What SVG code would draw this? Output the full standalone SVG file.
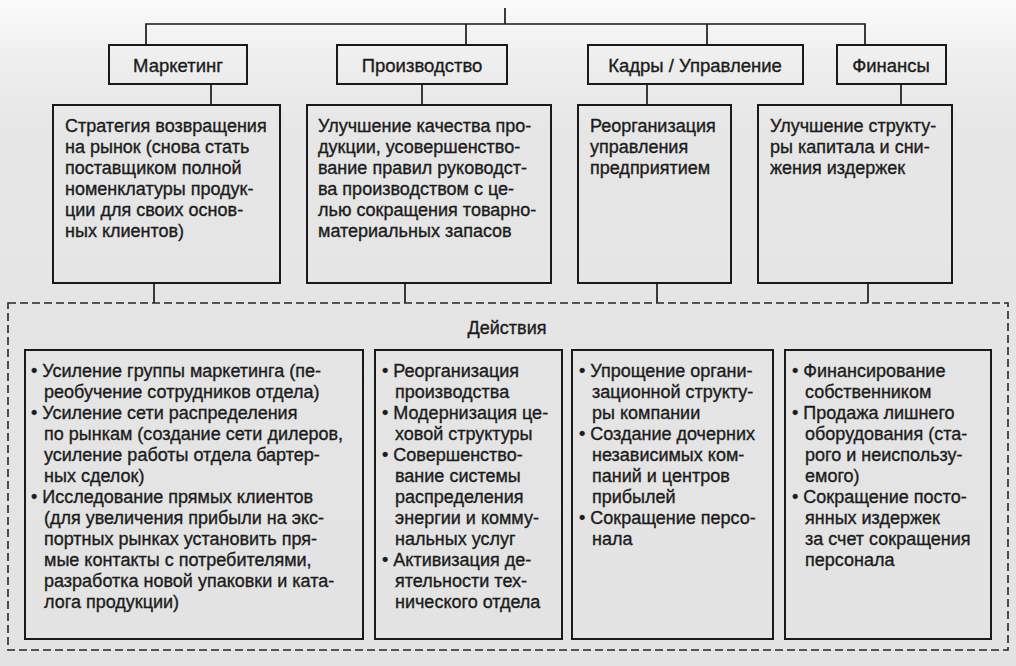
<svg xmlns="http://www.w3.org/2000/svg" width="1016" height="666" viewBox="0 0 1016 666">
<defs>
<linearGradient id="bg" x1="0" y1="0" x2="0" y2="1">
<stop offset="0" stop-color="#fbfbfb"/>
<stop offset="0.09" stop-color="#eeeeee"/>
<stop offset="0.2" stop-color="#e6e6e6"/>
<stop offset="1" stop-color="#e3e3e3"/>
</linearGradient>
<style>
.box{fill:none;stroke:#1a1a1a;stroke-width:2}
.ln{fill:none;stroke:#1a1a1a;stroke-width:1.7}
.dash{fill:none;stroke:#262626;stroke-width:1.6;stroke-dasharray:8 4}
text{font-family:"Liberation Sans",Arial,sans-serif;font-size:18px;fill:#1c1c1c;stroke:#1c1c1c;stroke-width:0.35}
.c{text-anchor:middle}
.h{font-size:18.5px}
</style>
</defs>
<rect width="1016" height="666" fill="url(#bg)"/>
<g id="connectors">
<line class="ln" x1="505" y1="8" x2="505" y2="24"/>
<polyline class="ln" points="146,45 146,24 865,24 865,45"/>
<line class="ln" x1="466" y1="24" x2="466" y2="45"/>
<line class="ln" x1="707" y1="24" x2="707" y2="45"/>
<line class="ln" x1="211" y1="84" x2="211" y2="105"/>
<line class="ln" x1="422" y1="84" x2="422" y2="105"/>
<line class="ln" x1="647" y1="84" x2="647" y2="105"/>
<line class="ln" x1="901" y1="84" x2="901" y2="105"/>
<line class="ln" x1="154" y1="283" x2="154" y2="303"/>
<line class="ln" x1="405" y1="283" x2="405" y2="303"/>
<line class="ln" x1="657" y1="283" x2="657" y2="303"/>
<line class="ln" x1="868" y1="283" x2="868" y2="303"/>
</g>
<g id="marketing">
<rect class="box" x="109" y="45" width="138" height="39"/>
<text class="c h" x="178" y="72">Маркетинг</text>
</g>
<g id="production">
<rect class="box" x="337" y="45" width="170" height="39"/>
<text class="c h" x="422" y="72">Производство</text>
</g>
<g id="hr">
<rect class="box" x="588" y="45" width="215" height="39"/>
<text class="c h" x="695" y="72">Кадры / Управление</text>
</g>
<g id="finance">
<rect class="box" x="837" y="45" width="109" height="39"/>
<text class="c h" x="891" y="72">Финансы</text>
</g>
<g id="goal-marketing">
<rect class="box" x="53" y="105" width="227" height="178"/>
<text x="65" y="132">Стратегия возвращения</text>
<text x="65" y="153">на рынок (снова стать</text>
<text x="65" y="174">поставщиком полной</text>
<text x="65" y="195">номенклатуры продук-</text>
<text x="65" y="216">ции для своих основ-</text>
<text x="65" y="237">ных клиентов)</text>
</g>
<g id="goal-production">
<rect class="box" x="307" y="105" width="244" height="178"/>
<text x="318" y="132">Улучшение качества про-</text>
<text x="318" y="153">дукции, усовершенство-</text>
<text x="318" y="174">вание правил руководст-</text>
<text x="318" y="195">ва производством с це-</text>
<text x="318" y="216">лью сокращения товарно-</text>
<text x="318" y="237">материальных запасов</text>
</g>
<g id="goal-hr">
<rect class="box" x="578" y="105" width="153" height="178"/>
<text x="590" y="132">Реорганизация</text>
<text x="590" y="153">управления</text>
<text x="590" y="174">предприятием</text>
</g>
<g id="goal-finance">
<rect class="box" x="758" y="105" width="194" height="178"/>
<text x="770" y="132">Улучшение структу-</text>
<text x="770" y="153">ры капитала и сни-</text>
<text x="770" y="174">жения издержек</text>
</g>
<g id="actions">
<rect class="dash" x="8" y="303" width="1000" height="347"/>
<text class="c" x="507" y="334">Действия</text>
</g>
<g id="actions-marketing">
<rect class="box" x="25" y="350" width="338" height="289"/>
<text x="31" y="377">• Усиление группы маркетинга (пе-</text>
<text x="44" y="398">реобучение сотрудников отдела)</text>
<text x="31" y="419">• Усиление сети распределения</text>
<text x="44" y="440">по рынкам (создание сети дилеров,</text>
<text x="44" y="461">усиление работы отдела бартер-</text>
<text x="44" y="482">ных сделок)</text>
<text x="31" y="503">• Исследование прямых клиентов</text>
<text x="44" y="524">(для увеличения прибыли на экс-</text>
<text x="44" y="545">портных рынках установить пря-</text>
<text x="44" y="566">мые контакты с потребителями,</text>
<text x="44" y="587">разработка новой упаковки и ката-</text>
<text x="44" y="608">лога продукции)</text>
</g>
<g id="actions-production">
<rect class="box" x="375" y="350" width="187" height="289"/>
<text x="382" y="377">• Реорганизация</text>
<text x="395" y="398">производства</text>
<text x="382" y="419">• Модернизация це-</text>
<text x="395" y="440">ховой структуры</text>
<text x="382" y="461">• Совершенство-</text>
<text x="395" y="482">вание системы</text>
<text x="395" y="503">распределения</text>
<text x="395" y="524">энергии и комму-</text>
<text x="395" y="545">нальных услуг</text>
<text x="382" y="566">• Активизация де-</text>
<text x="395" y="587">ятельности тех-</text>
<text x="395" y="608">нического отдела</text>
</g>
<g id="actions-hr">
<rect class="box" x="572" y="350" width="201" height="289"/>
<text x="579" y="377">• Упрощение органи-</text>
<text x="592" y="398">зационной структу-</text>
<text x="592" y="419">ры компании</text>
<text x="579" y="440">• Создание дочерних</text>
<text x="592" y="461">независимых ком-</text>
<text x="592" y="482">паний и центров</text>
<text x="592" y="503">прибылей</text>
<text x="579" y="524">• Сокращение персо-</text>
<text x="592" y="545">нала</text>
</g>
<g id="actions-finance">
<rect class="box" x="785" y="350" width="206" height="289"/>
<text x="792" y="377">• Финансирование</text>
<text x="805" y="398">собственником</text>
<text x="792" y="419">• Продажа лишнего</text>
<text x="805" y="440">оборудования (ста-</text>
<text x="805" y="461">рого и неиспользу-</text>
<text x="805" y="482">емого)</text>
<text x="792" y="503">• Сокращение посто-</text>
<text x="805" y="524">янных издержек</text>
<text x="805" y="545">за счет сокращения</text>
<text x="805" y="566">персонала</text>
</g>
</svg>
